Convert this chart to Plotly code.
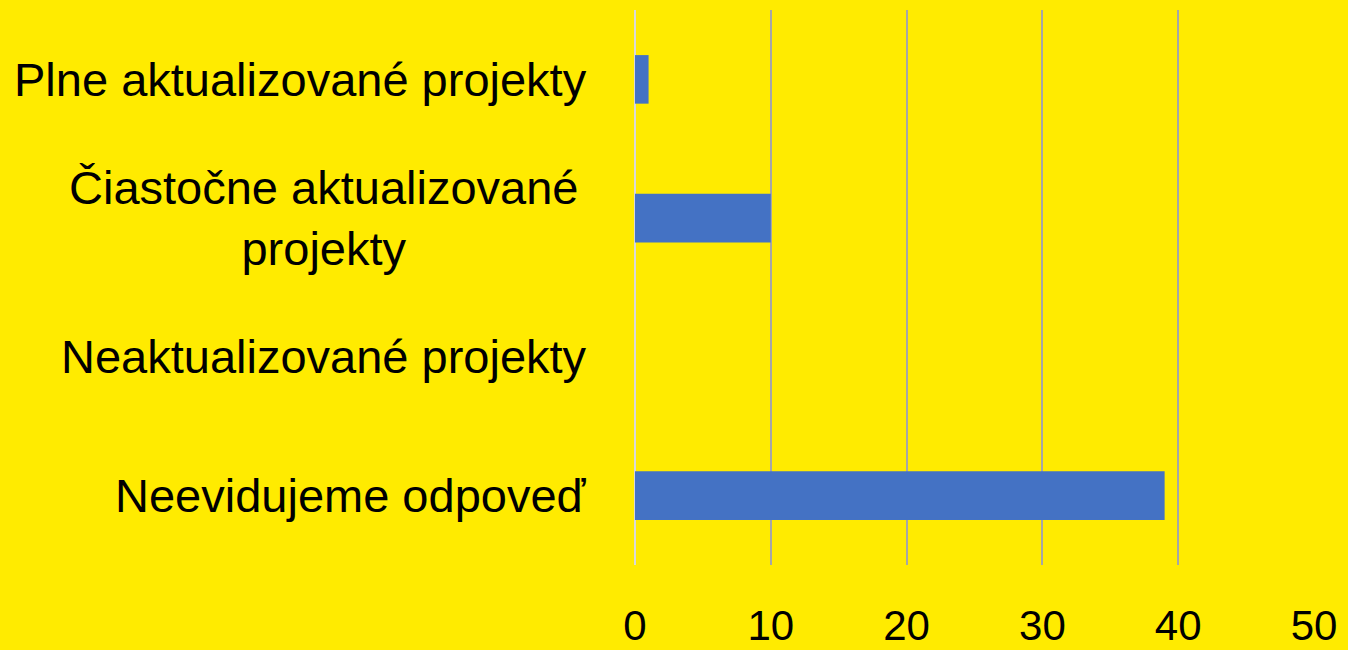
import plotly.graph_objects as go

categories = ["Plne aktualizované projekty",
              "Čiastočne aktualizované<br>projekty",
              "Neaktualizované projekty",
              "Neevidujeme odpoveď"]
values = [1, 10, 0, 39]
tick_vals = [0, 10, 20, 30, 40, 50]

BG = "#FFEB00"

fig = go.Figure()
fig.add_trace(go.Bar(
    x=values, y=categories, orientation="h",
    marker=dict(color="#4472C4", line=dict(width=0)),
    width=0.35,
))

for c in categories:
    shift = -55 if "<br>" in c else -46
    fig.add_annotation(
        x=0, xref="paper", y=c, yref="y", xanchor="right", yanchor="middle",
        xshift=shift, text=c, showarrow=False, align="center",
        font=dict(family="Liberation Sans, Arial", size=47, color="black"),
    )

fig.update_layout(
    width=1348, height=650,
    paper_bgcolor=BG, plot_bgcolor=BG,
    margin=dict(l=635, r=34, t=10, b=85),
    showlegend=False,
    xaxis=dict(range=[0, 50], tickvals=tick_vals, showgrid=True,
               gridcolor="#A6A6A6", gridwidth=2, zeroline=True,
               zerolinecolor="#D9D9D9", zerolinewidth=2,
               showline=False, ticks="", automargin=False,
               tickfont=dict(family="Liberation Sans, Arial", size=42, color="black"),
               ticklabelstandoff=32),
    yaxis=dict(autorange="reversed", showticklabels=False, showgrid=False,
               zeroline=False, showline=False, ticks="", automargin=False),
)

fig.write_html("out.html", config={"displayModeBar": False},
               post_script="document.body.style.margin='0';document.body.style.overflow='hidden';")
